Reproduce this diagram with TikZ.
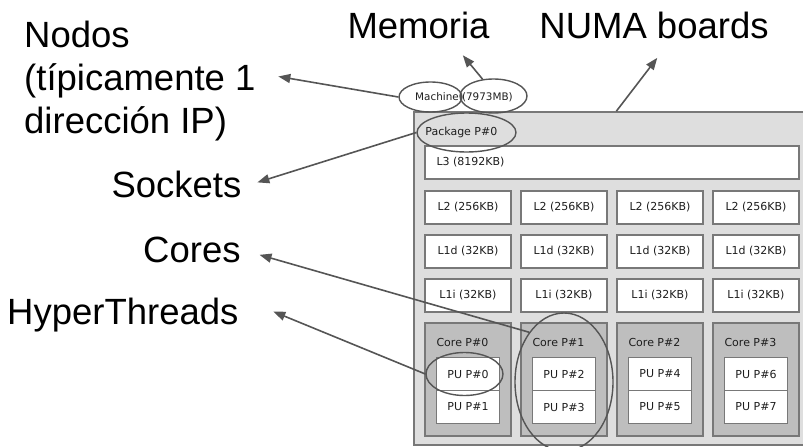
\documentclass[tikz,border=0pt]{standalone}
\usepackage{fontspec}
\setmainfont{Liberation Sans}
\newfontfamily\lstofont{DejaVu Sans}
\usetikzlibrary{shapes.geometric,arrows.meta}
\definecolor{pkgfill}{HTML}{DEDEDE}
\definecolor{corefill}{HTML}{BEBEBE}
\definecolor{boxline}{HTML}{787878}
\definecolor{markline}{HTML}{555555}
\definecolor{boxtext}{HTML}{1E1E1E}

\begin{document}
\begin{tikzpicture}[x=1pt,y=-1pt,
  box/.style={draw=boxline,line width=1.3pt,fill=white,inner sep=0pt,minimum width=86pt,minimum height=33pt,text=boxtext,font=\lstofont\fontsize{11}{13}\selectfont},
  pubox/.style={box,minimum width=63pt},
  corebox/.style={box,fill=corefill,minimum height=113pt},
  boxlabel/.style={inner sep=0pt,anchor=west,text=boxtext,font=\lstofont\fontsize{11}{13}\selectfont},
  ring/.style={draw=markline,line width=1.4pt,ellipse,inner sep=0pt},
  pointer/.style={draw=markline,line width=1.6pt,-{Triangle[length=12pt,width=9pt]}},
  callout/.style={inner sep=0pt,font=\fontsize{36.5}{43}\selectfont}]
\clip (0,0) rectangle (803,447);

% lstopo view
\node[box,fill=pkgfill,line width=1.6pt,minimum width=394pt,minimum height=333pt] (pkg) at (611,278.5) {};
\node[boxlabel] (pkglabel) at ([xshift=12pt]pkg.west |- 0,132.5) {Package P\#0};
\node[boxlabel,font=\lstofont\fontsize{10.4}{13}\selectfont] (mach) at (415,97) {Machine (7973MB)};
\node[box,minimum width=374pt] (l3) at (612,162.5) {};
\node[boxlabel] at ([xshift=12pt]l3.west) {L3 (8192KB)};
\foreach \i in {0,...,3}{
  \node[box] (l2-\i) at (468+96*\i,207.5) {L2 (256KB)};
  \node[box] (l1d-\i) at (468+96*\i,251.5) {L1d (32KB)};
  \node[box] (l1i-\i) at (468+96*\i,295.5) {L1i (32KB)};
  \node[corebox] (core-\i) at (468+96*\i,379.5) {};
  \node[boxlabel] at ([xshift=12pt,yshift=-20pt]core-\i.north west) {Core P\#\i};
  \pgfmathtruncatemacro\pua{2*\i}
  \pgfmathtruncatemacro\pub{2*\i+1}
  \node[pubox] (pua-\i) at (468+96*\i,374) {PU P\#\pua};
  \node[pubox] (pub-\i) at (468+96*\i,407) {PU P\#\pub};
}

\node[ring,minimum width=63pt,minimum height=30pt] (machE) at (430.5,97) {};
\node[ring,minimum width=67pt,minimum height=34pt] (memE) at (493.5,96) {};
\node[ring,minimum width=99pt,minimum height=39pt] (pkgE) at (466.5,132.5) {};
\node[ring,minimum width=77pt,minimum height=43pt] (puE) at ([xshift=-3.5pt]pua-0) {};
\node[ring,minimum width=98pt,minimum height=138pt] (coreE) at ([yshift=-2.5pt]core-1) {};

\node[callout,anchor=north west,align=left] (nodos) at (24,20.5) {Nodos\\(típicamente 1\\dirección IP)};
\node[callout,anchor=base west] (memoria) at (347.3,38) {Memoria};
\node[callout,anchor=base west] (numa) at (539.2,38) {NUMA boards};
\node[callout,anchor=base west] (sockets) at (111.3,197) {Sockets};
\node[callout,anchor=base west] (cores) at (143,262) {Cores};
\node[callout,anchor=base west] (hyper) at (7,324) {HyperThreads};

\draw[pointer,shorten >=23pt] (machE.west) -- (nodos.4);
\draw[pointer,shorten >=21.7pt] (memE.123) -- (memoria.-24);
\draw[pointer,shorten >=24.3pt] (pkg.north -| core-2.west) -- (numa.-37);
\draw[pointer,shorten >=16.6pt] (pkgE.west) -- (sockets.-3);
\draw[pointer,shorten >=19.5pt] (coreE.125) -- (cores.east);
\draw[pointer,shorten >=37.5pt] (puE.west) -- (hyper.north east);
\end{tikzpicture}
\end{document}
